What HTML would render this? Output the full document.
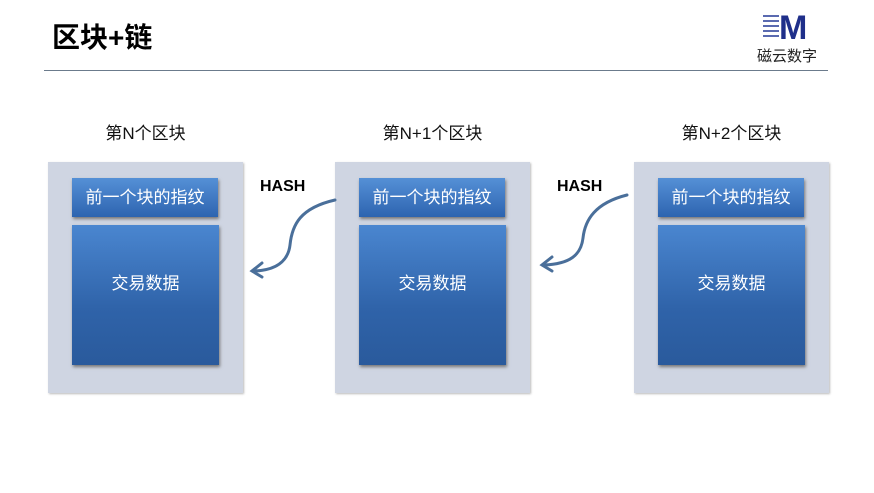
<!DOCTYPE html>
<html><head><meta charset="utf-8"><style>
body{margin:0;width:874px;height:493px;background:#fff;position:relative;overflow:hidden;font-family:"Liberation Sans","Noto Sans CJK SC",sans-serif}
.t{position:absolute;left:52px;top:16px;font-size:28px;font-weight:bold;color:#000}
.line{position:absolute;left:44px;top:70px;width:784px;height:1px;background:#6b7b8c}
.panel{position:absolute;top:162px;width:195px;height:231px;background:#cfd5e2;box-shadow:1px 1px 2px #bbb}
.hd{position:absolute;top:16px;left:24px;width:146px;height:39px;background:linear-gradient(#5590d6,#2d64b0);color:#fff;font-size:17px;text-align:center;line-height:39px;box-shadow:1px 2px 3px #777}
.dt{position:absolute;top:63px;left:24px;width:147px;height:140px;background:linear-gradient(#4a86d0,#2f63a9 60%,#2a5a9c);color:#fff;font-size:17px;text-align:center;padding-top:44px;box-sizing:border-box;box-shadow:1px 2px 3px #777}
.lb{position:absolute;top:119px;font-size:17px;color:#111;width:195px;text-align:center}
.hash{position:absolute;top:178px;font-size:16px;font-weight:bold}
</style></head><body>
<div class="t">区块+链</div>
<div class="line"></div>
<div style="position:absolute;left:757px;top:12px;width:72px;height:54px">
<div style="position:absolute;left:22px;top:0;font-size:34px;font-weight:bold;color:#1f2f8a;line-height:32px;font-family:'Liberation Sans',sans-serif">M</div>
<div style="position:absolute;left:6px;top:3px;width:16px;height:22px;background:repeating-linear-gradient(#5a6ab0 0 2px,transparent 2px 5px)"></div>
<div style="position:absolute;left:0;top:33px;font-size:15px;color:#222">磁云数字</div>
</div>
<div class="lb" style="left:48px">第N个区块</div>
<div class="lb" style="left:335px">第N+1个区块</div>
<div class="lb" style="left:634px">第N+2个区块</div>
<div class="panel" style="left:48px"><div class="hd">前一个块的指纹</div><div class="dt">交易数据</div></div>
<div class="panel" style="left:335px"><div class="hd">前一个块的指纹</div><div class="dt">交易数据</div></div>
<div class="panel" style="left:634px"><div class="hd">前一个块的指纹</div><div class="dt">交易数据</div></div>
<div class="hash" style="left:260px">HASH</div>
<div class="hash" style="left:557px">HASH</div>
<svg width="874" height="493" style="position:absolute;left:0;top:0">
<g fill="none" stroke="#4a6f9a" stroke-width="3" stroke-linecap="round">
<path d="M335 200 C300 208 292 225 290 245 C288 262 275 270 255 271"/>
<path d="M262 263 L252 271 L262 277"/>
<path d="M627 195 C595 203 585 220 583 238 C581 255 570 264 544 265"/>
<path d="M552 257 L542 265 L552 271"/>
</g></svg>
</body></html>
